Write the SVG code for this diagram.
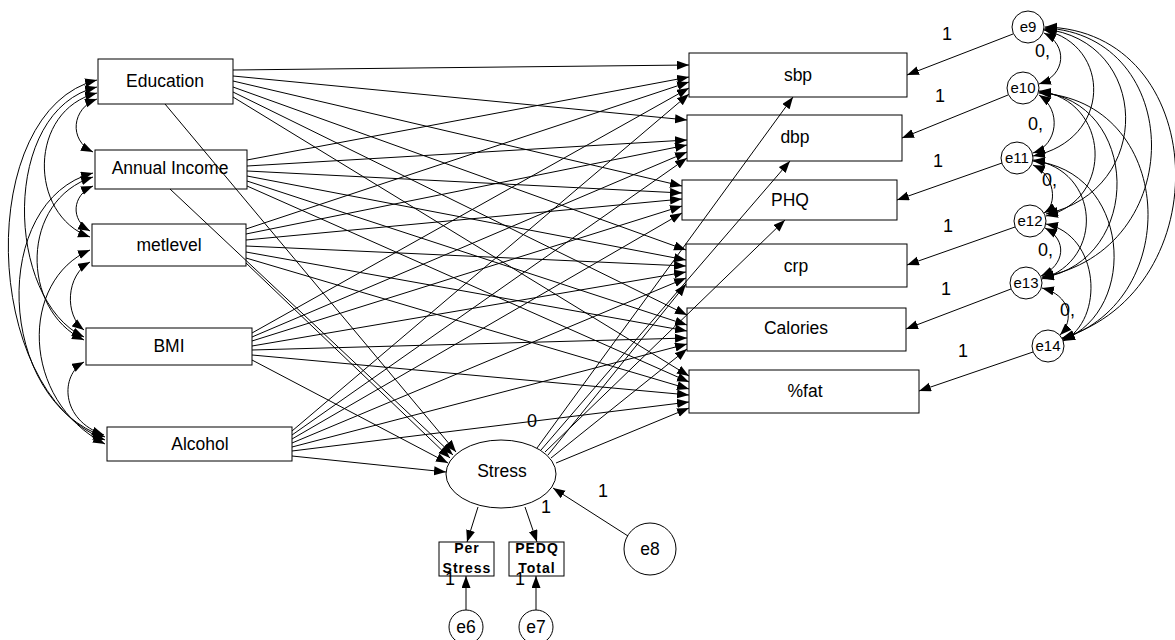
<svg xmlns="http://www.w3.org/2000/svg" width="1175" height="640" viewBox="0 0 1175 640">
<style>
.bx{fill:#fff;stroke:#000;stroke-width:1}
.nd{fill:#fff;stroke:#000;stroke-width:1}
.t{font-family:"Liberation Sans",Arial,sans-serif;font-size:17.5px;fill:#000;text-anchor:middle}
.te{font-family:"Liberation Sans",Arial,sans-serif;font-size:15px;fill:#000;text-anchor:middle}
.tb{font-family:"Liberation Sans",Arial,sans-serif;font-size:14px;font-weight:bold;letter-spacing:1px;fill:#000;text-anchor:middle}
.lb{font-family:"Liberation Sans",Arial,sans-serif;font-size:18px;fill:#000}
.c line,.c path{fill:none;stroke:#000;stroke-width:1;marker-end:url(#ah)}
.c path.cv{marker-start:url(#ah)}
</style>
<defs>
<marker id="ah" markerUnits="userSpaceOnUse" markerWidth="13" markerHeight="10" refX="12" refY="4.5" orient="auto-start-reverse">
<path d="M0,0 L12,4.5 L0,9 z" fill="#000"/>
</marker>
</defs>
<g id="education"><rect class="bx" x="98" y="59" width="135" height="45"/><text class="t" x="165" y="87">Education</text></g>
<g id="income"><rect class="bx" x="95" y="150" width="152" height="39"/><text class="t" x="170" y="174">Annual Income</text></g>
<g id="metlevel"><rect class="bx" x="92" y="224" width="154" height="42"/><text class="t" x="169" y="251">metlevel</text></g>
<g id="bmi"><rect class="bx" x="86" y="328" width="166" height="37"/><text class="t" x="169" y="352">BMI</text></g>
<g id="alcohol"><rect class="bx" x="107" y="427" width="185" height="34"/><text class="t" x="200" y="450">Alcohol</text></g>
<g id="sbp"><rect class="bx" x="689" y="53" width="218" height="44"/><text class="t" x="798" y="81">sbp</text></g>
<g id="dbp"><rect class="bx" x="687" y="115" width="215" height="46"/><text class="t" x="795" y="143">dbp</text></g>
<g id="phq"><rect class="bx" x="682" y="180" width="215" height="40"/><text class="t" x="790" y="206">PHQ</text></g>
<g id="crp"><rect class="bx" x="686" y="244" width="221" height="43"/><text class="t" x="796" y="272">crp</text></g>
<g id="calories"><rect class="bx" x="687" y="308" width="219" height="43"/><text class="t" x="796" y="334">Calories</text></g>
<g id="fat"><rect class="bx" x="689" y="370" width="230" height="43"/><text class="t" x="805" y="397">%fat</text></g>
<g id="stress"><ellipse class="nd" cx="501" cy="474" rx="55" ry="34"/><text class="t" x="502" y="477">Stress</text></g>
<g id="perstress"><rect class="bx" x="439" y="542" width="55" height="34"/><text class="tb" x="467" y="553">Per</text><text class="tb" x="467" y="573">Stress</text></g>
<g id="pedq"><rect class="bx" x="509" y="542" width="55" height="34"/><text class="tb" x="537" y="553">PEDQ</text><text class="tb" x="537" y="573">Total</text></g>
<g id="e6"><circle class="nd" cx="466" cy="627" r="17"/><text class="t" x="466" y="633">e6</text></g>
<g id="e7"><circle class="nd" cx="536" cy="627" r="17"/><text class="t" x="536" y="633">e7</text></g>
<g id="e8"><circle class="nd" cx="650" cy="549" r="26"/><text class="t" x="650" y="555">e8</text></g>
<g id="e9"><circle class="nd" cx="1028" cy="27" r="16"/><text class="te" x="1028" y="32">e9</text></g>
<g id="e10"><circle class="nd" cx="1023" cy="88" r="16"/><text class="te" x="1023" y="93">e10</text></g>
<g id="e11"><circle class="nd" cx="1017" cy="158" r="16"/><text class="te" x="1017" y="163">e11</text></g>
<g id="e12"><circle class="nd" cx="1030" cy="221" r="16"/><text class="te" x="1030" y="226">e12</text></g>
<g id="e13"><circle class="nd" cx="1026" cy="283" r="16"/><text class="te" x="1026" y="288">e13</text></g>
<g id="e14"><circle class="nd" cx="1048" cy="346" r="16"/><text class="te" x="1048" y="351">e14</text></g>
<g id="connectors" class="c">
<!-- Education -->
<line x1="233" y1="70" x2="689" y2="65"/>
<line x1="233" y1="76" x2="687" y2="120"/>
<line x1="233" y1="81" x2="682" y2="186"/>
<line x1="233" y1="87" x2="686" y2="250"/>
<line x1="233" y1="92" x2="687" y2="315"/>
<line x1="233" y1="97" x2="689" y2="376"/>
<line x1="165" y1="104" x2="456" y2="452"/>
<!-- Annual Income -->
<line x1="247" y1="160" x2="689" y2="77"/>
<line x1="247" y1="166" x2="687" y2="140"/>
<line x1="247" y1="171" x2="682" y2="193"/>
<line x1="247" y1="176" x2="686" y2="260"/>
<line x1="247" y1="181" x2="687" y2="325"/>
<line x1="247" y1="186" x2="689" y2="382"/>
<line x1="170" y1="189" x2="453" y2="455"/>
<!-- metlevel -->
<line x1="246" y1="229" x2="689" y2="82"/>
<line x1="246" y1="234" x2="687" y2="145"/>
<line x1="246" y1="240" x2="682" y2="199"/>
<line x1="246" y1="246" x2="686" y2="266"/>
<line x1="246" y1="252" x2="687" y2="331"/>
<line x1="246" y1="258" x2="689" y2="389"/>
<line x1="246" y1="263" x2="450" y2="458"/>
<!-- BMI -->
<line x1="252" y1="333" x2="689" y2="88"/>
<line x1="252" y1="337" x2="687" y2="152"/>
<line x1="252" y1="341" x2="682" y2="206"/>
<line x1="252" y1="346" x2="686" y2="272"/>
<line x1="252" y1="350" x2="687" y2="338"/>
<line x1="252" y1="355" x2="689" y2="395"/>
<line x1="252" y1="360" x2="448" y2="463"/>
<!-- Alcohol -->
<line x1="292" y1="431" x2="689" y2="94"/>
<line x1="292" y1="435" x2="687" y2="158"/>
<line x1="292" y1="439" x2="682" y2="213"/>
<line x1="292" y1="443" x2="686" y2="278"/>
<line x1="292" y1="447" x2="687" y2="344"/>
<line x1="292" y1="451" x2="689" y2="402"/>
<line x1="292" y1="456" x2="446" y2="472"/>
<!-- Stress -->
<line x1="537" y1="448" x2="793" y2="97"/>
<line x1="541" y1="450" x2="790" y2="161"/>
<line x1="545" y1="452" x2="785" y2="220"/>
<line x1="548" y1="455" x2="686" y2="284"/>
<line x1="551" y1="458" x2="687" y2="349"/>
<line x1="556" y1="463" x2="689" y2="408"/>
<line x1="478" y1="507" x2="467" y2="542"/>
<line x1="525" y1="507" x2="537" y2="542"/>
<line x1="628" y1="536" x2="553" y2="488"/>
<line x1="466" y1="610" x2="466" y2="576"/>
<line x1="536" y1="610" x2="536" y2="576"/>
<!-- errors to outcomes -->
<line x1="1013" y1="34" x2="907" y2="75"/>
<line x1="1008" y1="95" x2="902" y2="138"/>
<line x1="1002" y1="163" x2="897" y2="200"/>
<line x1="1015" y1="227" x2="907" y2="265"/>
<line x1="1011" y1="289" x2="906" y2="329"/>
<line x1="1033" y1="352" x2="919" y2="391"/>
<!-- left covariances -->
<path class="cv" d="M97,99 C72,108 68,140 93,152"/>
<path class="cv" d="M93,186 C72,195 70,220 90,231"/>
<path class="cv" d="M90,262 C66,275 64,315 84,330"/>
<path class="cv" d="M84,362 C60,375 60,420 104,435"/>
<path class="cv" d="M97,93 C28,110 28,215 90,237"/>
<path class="cv" d="M97,87 C0,110 5,300 84,337"/>
<path class="cv" d="M97,80 C-25,110 -20,390 105,440"/>
<path class="cv" d="M93,177 C20,200 20,310 84,340"/>
<path class="cv" d="M93,173 C-10,200 -5,400 105,437"/>
<path class="cv" d="M90,250 C20,280 20,400 105,444"/>
<!-- right covariances -->
<path class="cv" d="M1044,33 C1068,45 1066,75 1039,84"/>
<path class="cv" d="M1039,95 C1062,110 1058,145 1033,153"/>
<path class="cv" d="M1033,165 C1055,175 1058,205 1044,213"/>
<path class="cv" d="M1045,228 C1068,240 1065,265 1041,276"/>
<path class="cv" d="M1042,288 C1070,295 1075,320 1060,335"/>
<path class="cv" d="M1044,30 C1112,45 1112,140 1033,156"/>
<path class="cv" d="M1044,29 C1150,40 1155,190 1046,214"/>
<path class="cv" d="M1045,28 C1185,35 1190,250 1042,277"/>
<path class="cv" d="M1045,27 C1210,30 1222,290 1062,338"/>
<path class="cv" d="M1039,91 C1110,100 1115,200 1046,216"/>
<path class="cv" d="M1039,92 C1140,100 1145,260 1042,278"/>
<path class="cv" d="M1039,93 C1175,100 1185,300 1062,339"/>
<path class="cv" d="M1033,160 C1100,170 1105,260 1042,279"/>
<path class="cv" d="M1033,161 C1130,170 1140,310 1063,340"/>
<path class="cv" d="M1046,224 C1100,235 1105,320 1063,341"/>
</g>
<g id="labels">
<text class="lb" x="947" y="40" text-anchor="middle">1</text>
<text class="lb" x="940" y="102" text-anchor="middle">1</text>
<text class="lb" x="938" y="167" text-anchor="middle">1</text>
<text class="lb" x="948" y="232" text-anchor="middle">1</text>
<text class="lb" x="946" y="295" text-anchor="middle">1</text>
<text class="lb" x="963" y="357" text-anchor="middle">1</text>
<text class="lb" x="1035" y="57">0,</text>
<text class="lb" x="1028" y="130">0,</text>
<text class="lb" x="1042" y="186">0,</text>
<text class="lb" x="1038" y="256">0,</text>
<text class="lb" x="1060" y="316">0,</text>
<text class="lb" x="532" y="427" text-anchor="middle">0</text>
<text class="lb" x="603" y="497" text-anchor="middle">1</text>
<text class="lb" x="546" y="513" text-anchor="middle">1</text>
<text class="lb" x="450" y="585" text-anchor="middle">1</text>
<text class="lb" x="520" y="585" text-anchor="middle">1</text>
</g>
</svg>
